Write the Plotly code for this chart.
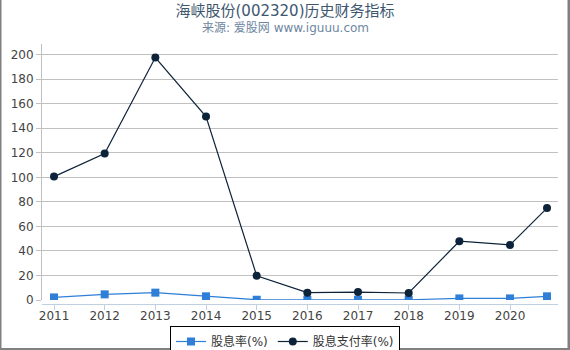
import plotly.graph_objects as go

# ---- data ----
x_pos = [2011, 2012, 2013, 2014, 2015, 2016, 2017, 2018, 2019, 2020, 2020.73]
tick_vals = [2011, 2012, 2013, 2014, 2015, 2016, 2017, 2018, 2019, 2020]
tick_text = ["2011", "2012", "2013", "2014", "2015", "2016", "2017", "2018", "2019", "2020"]
dividend_yield = [2.1, 4.6, 6.0, 3.0, 0.2, 0.2, 0.2, 0.2, 1.3, 1.3, 3.0]
payout_ratio = [100.6, 119.4, 197.7, 149.6, 19.8, 6.0, 6.5, 5.7, 47.9, 44.9, 74.9]
y_ticks = [0, 20, 40, 60, 80, 100, 120, 140, 160, 180, 200]

W, H = 570, 350
ML, MR, MT, MB = 42, 12, 44, 46
PW = W - ML - MR
PH = H - MT - MB

FONT = "DejaVu Sans, Noto Sans CJK SC, sans-serif"

fig = go.Figure()
fig.add_trace(go.Scatter(
    x=x_pos, y=dividend_yield, name="股息率(%)", mode="lines+markers",
    line=dict(color="#2f7ed8", width=1.2),
    marker=dict(symbol="square", size=8, color="#2f7ed8"),
))
fig.add_trace(go.Scatter(
    x=x_pos, y=payout_ratio, name="股息支付率(%)", mode="lines+markers",
    line=dict(color="#0d233a", width=1.2),
    marker=dict(symbol="circle", size=8, color="#0d233a"),
))

def px_x(px):
    return (px - ML) / PW

def px_y(py):
    return (H - MB - py) / PH

border = "#808080"
shapes = [
    dict(type="rect", xref="paper", yref="paper", x0=px_x(0), x1=px_x(1.5),
         y0=px_y(H), y1=px_y(0), fillcolor=border, line=dict(width=0), layer="above"),
    dict(type="rect", xref="paper", yref="paper", x0=px_x(567.5), x1=px_x(W),
         y0=px_y(H), y1=px_y(0), fillcolor=border, line=dict(width=0), layer="above"),
    dict(type="rect", xref="paper", yref="paper", x0=px_x(0), x1=px_x(W),
         y0=px_y(H), y1=px_y(348), fillcolor=border, line=dict(width=0), layer="above"),
]

fig.update_layout(
    width=W, height=H,
    margin=dict(l=ML, r=MR, t=MT, b=MB, pad=0, autoexpand=False),
    paper_bgcolor="white", plot_bgcolor="white",
    font=dict(family=FONT, size=12, color="#444"),
    title=dict(text="海峡股份(002320)历史财务指标", x=0.5, xref="container", xanchor="center",
               y=1 - 11 / H, yref="container", yanchor="middle",
               font=dict(size=15, color="#3E576F", family=FONT)),
    annotations=[dict(text="来源: 爱股网 www.iguuu.com", xref="paper", yref="paper",
                      x=px_x(W / 2), y=px_y(28), xanchor="center", yanchor="middle",
                      showarrow=False, font=dict(size=12, color="#6D869F", family=FONT))],
    showlegend=True,
    legend=dict(orientation="h", xref="container", yref="container",
                x=0.5, xanchor="center", y=1 - 326 / H, yanchor="top",
                bordercolor="#000", borderwidth=1, bgcolor="white",
                font=dict(size=12, color="#333"), itemwidth=30,
                tracegroupgap=0),
    xaxis=dict(range=[2010.763, 2020.947], tickvals=tick_vals, ticktext=tick_text,
               showgrid=False, zeroline=False, showline=True, linecolor="#C0D0E0",
               ticks="outside", ticklen=5, tickcolor="#C0D0E0",
               anchor="free", position=0, automargin=False,
               ticklabelstandoff=-4,
               tickfont=dict(size=12, color="#444")),
    yaxis=dict(range=[0, 208.7], tickvals=y_ticks, domain=[4 / PH, 1],
               showgrid=True, gridcolor="#C0C0C0", gridwidth=1, zeroline=False,
               showline=True, linecolor="#C0C0C0", ticks="outside", ticklen=5,
               automargin=False,
               tickcolor="#C0C0C0", tickfont=dict(size=12, color="#444")),
    shapes=shapes,
)

fig.write_html("out.html")
